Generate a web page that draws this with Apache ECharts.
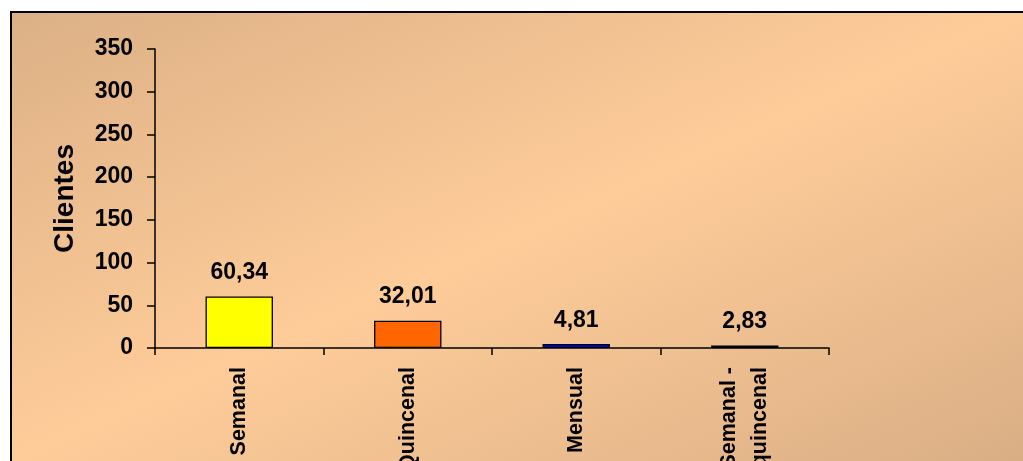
<!DOCTYPE html>
<html>
<head>
<meta charset="utf-8">
<script src="https://cdn.jsdelivr.net/npm/echarts@6/dist/echarts.min.js"></script>
<style>
  html, body { margin: 0; padding: 0; background: #ffffff; }
  #chart { width: 1023px; height: 461px; }
</style>
</head>
<body>
<div id="chart"></div>
<script>
// Frecuencia de compra de los clientes
const categories = ['Semanal', 'Quincenal', 'Mensual', 'Semanal -\nquincenal'];
const values = [60.34, 32.01, 4.81, 2.83];
const barColors = ['#FFFF00', '#FF6600', '#0000FF', '#111111'];
const yTicks = { min: 0, max: 350, interval: 50 };

const chart = echarts.init(document.getElementById('chart'), null, { renderer: 'canvas' });

const fontFamily = 'Arial, "Liberation Sans", sans-serif';

// panel background: dark corners top-left / bottom-right, light band along the other diagonal
const panelFill = new echarts.graphic.LinearGradient(351, -139, 683, 611, [
  { offset: 0, color: '#DCB086' },
  { offset: 0.5, color: '#FECC99' },
  { offset: 1, color: '#DAAE85' }
], true);

chart.setOption({
  backgroundColor: '#ffffff',
  animation: false,
  graphic: [{
    type: 'rect',
    z: -10,
    silent: true,
    shape: { x: 11, y: 12, width: 1040, height: 480 },
    style: { fill: panelFill, stroke: '#000000', lineWidth: 2 }
  }],
  grid: { left: 155, right: 194, top: 49, bottom: 113, containLabel: false, outerBoundsMode: 'none' },
  xAxis: {
    type: 'category',
    data: categories,
    boundaryGap: true,
    axisLine: { lineStyle: { color: '#000', width: 1.5 } },
    axisTick: { show: true, alignWithLabel: false, length: 7, lineStyle: { color: '#000', width: 1.5 } },
    axisLabel: {
      rotate: 90,
      margin: 19,
      interval: 0,
      color: '#000',
      fontFamily: fontFamily,
      fontWeight: 'bold',
      fontSize: 21.5,
      lineHeight: 31
    }
  },
  yAxis: {
    type: 'value',
    min: yTicks.min,
    max: yTicks.max,
    interval: yTicks.interval,
    name: 'Clientes',
    nameLocation: 'middle',
    nameRotate: 90,
    nameGap: 76,
    nameTextStyle: { color: '#000', fontFamily: fontFamily, fontWeight: 'bold', fontSize: 28 },
    axisLine: { show: true, lineStyle: { color: '#000', width: 1.5 } },
    axisTick: { show: true, length: 8, lineStyle: { color: '#000', width: 1.5 } },
    splitLine: { show: false },
    axisLabel: {
      margin: 22,
      color: '#000',
      fontFamily: fontFamily,
      fontWeight: 'bold',
      fontSize: 23
    }
  },
  series: [{
    type: 'bar',
    barWidth: '40%',
    data: values.map((v, i) => ({
      value: v,
      itemStyle: { color: barColors[i], borderColor: '#000', borderWidth: 1.3 }
    })),
    label: {
      show: true,
      position: 'top',
      distance: 12,
      color: '#000',
      fontFamily: fontFamily,
      fontWeight: 'bold',
      fontSize: 23,
      formatter: p => p.value.toFixed(2).replace('.', ',')
    }
  }]
});
</script>
</body>
</html>
